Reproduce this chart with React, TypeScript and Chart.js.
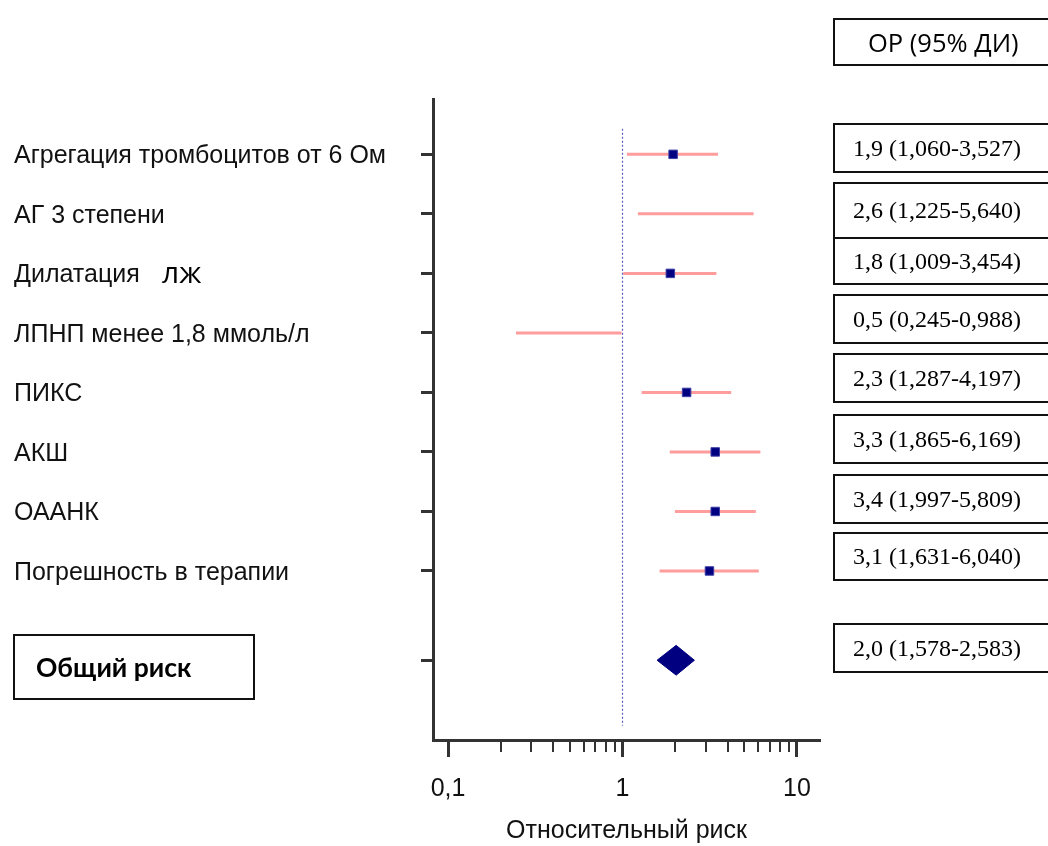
import React, { useEffect, useRef } from "react";
import { Chart, registerables } from "chart.js";

Chart.register(...registerables);

// ---------- data ----------
const categories = [
  "Агрегация тромбоцитов от 6 Ом",
  "АГ 3 степени",
  "Дилатация",
  "ЛПНП менее 1,8 ммоль/л",
  "ПИКС",
  "АКШ",
  "ОААНК",
  "Погрешность в терапии",
];
const categorySuffix = ["", "", "лж", "", "", "", "", ""];
const rowPositions = [0, 1, 2, 3, 4, 5, 6, 7];
const orValues = [1.9, 2.6, 1.8, 0.5, 2.3, 3.3, 3.4, 3.1];
const ciLow = [1.06, 1.225, 1.009, 0.245, 1.287, 1.865, 1.997, 1.631];
const ciHigh = [3.527, 5.64, 3.454, 0.988, 4.197, 6.169, 5.809, 6.04];
// marker positions (no marker on rows 2 and 4)
const markerValues: (number | null)[] = [1.95, null, 1.88, null, 2.33, 3.4, 3.4, 3.15];

const overallLabel = "Общий риск";
const overallRow = 8.5;
const overallOr = 2.0;
const overallLow = 1.578;
const overallHigh = 2.583;
const overallCenter = 2.03;
const overallHalfHeight = 0.25;

const referenceValue = 1;
const referenceSpan = [-0.43, 9.6];

const xTickValues = [0.1, 1, 10];
const xTickLabels = ["0,1", "1", "10"];
const xMinorTicks = [0.2, 0.3, 0.4, 0.5, 0.6, 0.7, 0.8, 0.9, 2, 3, 4, 5, 6, 7, 8, 9];
const xTitle = "Относительный риск";
const tableHeader = "ОР (95% ДИ)";

// ---------- layout ----------
const W = 1048;
const H = 846;
const tableBoxes = [
  [123, 171],
  [182, 237],
  [237, 283],
  [294, 342],
  [353, 401],
  [414, 462],
  [474, 522],
  [532, 579],
];
const overallBox = [623, 671];

const fmt1 = (v: number) => v.toFixed(1).replace(".", ",");
const fmt3 = (v: number) => v.toFixed(3).replace(".", ",");
const rowText = (or: number, lo: number, hi: number) => `${fmt1(or)} (${fmt3(lo)}-${fmt3(hi)})`;

const SANS = '"Liberation Sans", Arial, sans-serif';
const CALIBRI = 'Lato, "Open Sans", "Noto Sans", sans-serif';
const OPEN = '"Open Sans", "Noto Sans", sans-serif';
const SERIF = '"Liberation Serif", "Times New Roman", serif';

const extrasPlugin = {
  id: "forestExtras",
  afterDraw(chart: any) {
    const { ctx } = chart;
    const x = chart.scales.x;
    const y = chart.scales.y;
    ctx.save();
    // minor log ticks
    ctx.strokeStyle = "#333";
    ctx.lineWidth = 2;
    xMinorTicks.forEach((v) => {
      const px = Math.round(x.getPixelForValue(v));
      ctx.beginPath();
      ctx.moveTo(px, x.top);
      ctx.lineTo(px, x.top + 12);
      ctx.stroke();
    });
    // label suffixes in a different font
    ctx.fillStyle = "#000";
    ctx.font = `30px ${OPEN}`;
    ctx.textBaseline = "middle";
    ctx.textAlign = "left";
    categorySuffix.forEach((s, i) => {
      if (!s) return;
      ctx.fillText(s, y.left + 148, y.getPixelForValue(rowPositions[i]) + 1);
    });
    ctx.restore();
  },
};

export default function App() {
  const ref = useRef<HTMLCanvasElement>(null);

  useEffect(() => {
    if (!ref.current) return;
    const ciSets = rowPositions.map((r, i) => ({
      type: "scatter" as const,
      data: [
        { x: ciLow[i], y: r },
        { x: ciHigh[i], y: r },
      ],
      showLine: true,
      borderColor: "#ff9c9c",
      backgroundColor: "#ff9c9c",
      borderWidth: 3,
      borderCapStyle: "butt",
      pointRadius: 0,
      order: 3,
    }));
    const markers = {
      type: "scatter" as const,
      data: markerValues
        .map((v, i) => (v == null ? null : { x: v, y: rowPositions[i] }))
        .filter((p) => p !== null),
      showLine: false,
      pointStyle: "rect",
      pointRadius: 6,
      backgroundColor: "#000080",
      borderColor: "#3d3da6",
      borderWidth: 1,
      order: 1,
    };
    const diamond = {
      type: "scatter" as const,
      data: [
        { x: overallLow, y: overallRow },
        { x: overallCenter, y: overallRow - overallHalfHeight },
        { x: overallHigh, y: overallRow },
        { x: overallCenter, y: overallRow + overallHalfHeight },
        { x: overallLow, y: overallRow },
      ],
      showLine: true,
      fill: "shape",
      backgroundColor: "#000080",
      borderColor: "#000080",
      borderWidth: 1,
      pointRadius: 0,
      tension: 0,
      order: 2,
    };
    const refLine = {
      type: "scatter" as const,
      data: [
        { x: referenceValue, y: referenceSpan[0] },
        { x: referenceValue, y: referenceSpan[1] },
      ],
      showLine: true,
      borderColor: "#5a5ab8",
      borderWidth: 1.2,
      borderDash: [2, 2],
      pointRadius: 0,
      order: 5,
    };

    const chart = new Chart(ref.current, {
      type: "scatter",
      data: { datasets: [refLine, ...ciSets, diamond, markers] as any },
      options: {
        animation: false,
        responsive: false,
        devicePixelRatio: 1,
        events: [],
        layout: { padding: { left: 14, right: W - 820, top: 99, bottom: 0 } },
        plugins: { legend: { display: false }, tooltip: { enabled: false } },
        scales: {
          x: {
            type: "logarithmic",
            position: "bottom",
            min: 0.082,
            max: 13.55,
            afterBuildTicks: (s: any) => {
              s.ticks = xTickValues.map((v) => ({ value: v }));
            },
            afterFit: (s: any) => {
              s.height = H - 740;
            },
            ticks: {
              autoSkip: false,
              maxRotation: 0,
              padding: 17,
              color: "#111",
              font: { family: SANS, size: 25 },
              callback: (_v: any, i: number) => xTickLabels[i],
            },
            grid: {
              drawOnChartArea: false,
              drawTicks: true,
              tickLength: 17,
              tickWidth: 3,
              tickColor: "#333",
            },
            border: { display: true, width: 3, color: "#333" },
            title: {
              display: true,
              text: xTitle,
              color: "#111",
              font: { family: SANS, size: 25 },
              padding: { top: 0, bottom: 0 },
            },
          },
          y: {
            type: "linear",
            reverse: true,
            min: -0.93,
            max: 9.84,
            afterBuildTicks: (s: any) => {
              s.ticks = [...rowPositions, overallRow].map((v) => ({ value: v }));
            },
            afterFit: (s: any) => {
              s.width = 433 - 14;
            },
            ticks: {
              autoSkip: false,
              crossAlign: "far",
              labelOffset: 2,
              color: "#111",
              font: { family: SANS, size: 25 },
              callback: (_v: any, i: number) => categories[i] ?? "",
            },
            grid: {
              drawOnChartArea: false,
              drawTicks: true,
              tickLength: 12,
              tickWidth: 3,
              tickColor: "#333",
            },
            border: { display: true, width: 3, color: "#333" },
          },
        },
      },
      plugins: [extrasPlugin],
    } as any);
    return () => chart.destroy();
  }, []);

  const boxBase: React.CSSProperties = {
    position: "absolute",
    left: 833,
    width: 230,
    border: "2px solid #111",
    boxSizing: "border-box",
    display: "flex",
    alignItems: "center",
    background: "transparent",
    color: "#000",
    whiteSpace: "nowrap",
  };

  return (
    <div
      style={{
        position: "absolute",
        left: 0,
        top: 0,
        width: W,
        height: H,
        overflow: "hidden",
        background: "#fff",
      }}
    >
      <canvas ref={ref} width={W} height={H} style={{ position: "absolute", left: 0, top: 0, width: W, height: H }} />
      <div style={{ ...boxBase, top: 18, height: 48, paddingLeft: 33, font: `25.5px ${OPEN}` }}>{tableHeader}</div>
      {tableBoxes.map(([t, b], i) => (
        <div key={i} style={{ ...boxBase, top: t, height: b - t + 2, paddingLeft: 18, font: `24px ${SERIF}` }}>
          {rowText(orValues[i], ciLow[i], ciHigh[i])}
        </div>
      ))}
      <div style={{ ...boxBase, top: overallBox[0], height: overallBox[1] - overallBox[0] + 2, paddingLeft: 18, font: `24px ${SERIF}` }}>
        {rowText(overallOr, overallLow, overallHigh)}
      </div>
      <div
        style={{
          ...boxBase,
          left: 13,
          top: 634,
          width: 242,
          height: 66,
          paddingLeft: 21,
          font: `bold 26.5px ${CALIBRI}`,
        }}
      >
        {overallLabel}
      </div>
    </div>
  );
}
